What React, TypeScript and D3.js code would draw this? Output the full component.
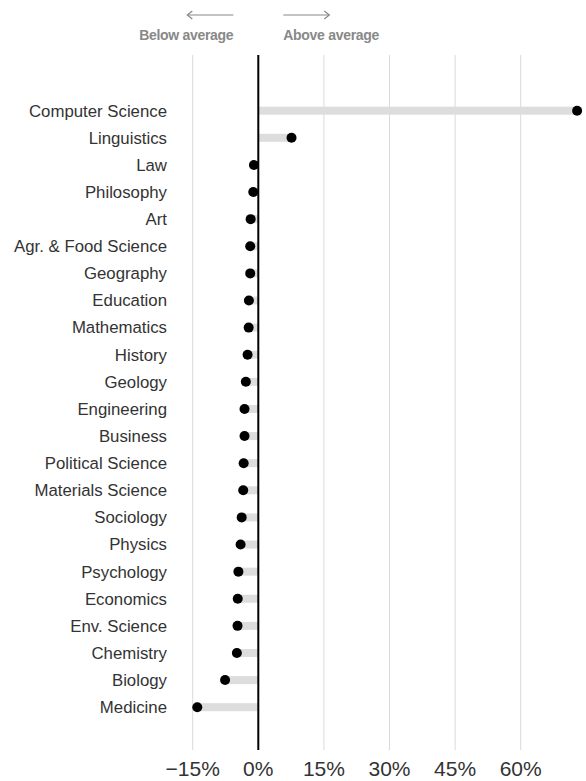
import React, { useEffect, useRef } from 'react';
import * as d3 from 'd3';

const categories = [
  'Computer Science', 'Linguistics', 'Law', 'Philosophy', 'Art', 'Agr. & Food Science',
  'Geography', 'Education', 'Mathematics', 'History', 'Geology', 'Engineering',
  'Business', 'Political Science', 'Materials Science', 'Sociology', 'Physics',
  'Psychology', 'Economics', 'Env. Science', 'Chemistry', 'Biology', 'Medicine',
];

const values = [
  72.9, 7.6, -1.0, -1.15, -1.75, -1.85,
  -1.85, -2.15, -2.2, -2.45, -2.85, -3.15,
  -3.15, -3.35, -3.45, -3.8, -4.05,
  -4.55, -4.7, -4.75, -4.9, -7.6, -13.95,
];

const ticks = [-15, 0, 15, 30, 45, 60];

const App: React.FC = () => {
  const width = 586;
  const height = 781;
  const svgRef = useRef<SVGSVGElement>(null);

  useEffect(() => {
    if (!svgRef.current) return;
    const svg = d3.select(svgRef.current);
    svg.selectAll('*').remove();

    const x = d3.scaleLinear().domain([-15, 60]).range([192.7, 520.7]);
    const y = d3.scalePoint<string>().domain(categories).range([110.7, 707.2]);

    const gridTop = 55;
    const gridBottom = 750;

    // grid
    svg.append('g')
      .selectAll('line')
      .data(ticks.filter(t => t !== 0))
      .join('line')
      .attr('x1', d => x(d))
      .attr('x2', d => x(d))
      .attr('y1', gridTop)
      .attr('y2', gridBottom)
      .attr('stroke', '#d9d9d9')
      .attr('stroke-width', 1);

    // tick labels
    svg.append('g')
      .selectAll('text')
      .data(ticks)
      .join('text')
      .attr('x', d => x(d))
      .attr('y', 776)
      .attr('text-anchor', 'middle')
      .attr('font-family', 'Liberation Sans, Arial, sans-serif')
      .attr('font-size', 21)
      .attr('fill', '#333')
      .text(d => (d < 0 ? '\u2212' + Math.abs(d) : d) + '%');

    // bars
    svg.append('g')
      .selectAll('rect')
      .data(values)
      .join('rect')
      .attr('x', d => Math.min(x(0), x(d)))
      .attr('width', d => Math.abs(x(d) - x(0)))
      .attr('y', (d, i) => y(categories[i])! - 4)
      .attr('height', 8)
      .attr('fill', '#dddddd');

    // zero line
    svg.append('line')
      .attr('x1', x(0))
      .attr('x2', x(0))
      .attr('y1', gridTop)
      .attr('y2', gridBottom)
      .attr('stroke', '#000')
      .attr('stroke-width', 2);

    // dots
    svg.append('g')
      .selectAll('circle')
      .data(values)
      .join('circle')
      .attr('cx', d => x(d))
      .attr('cy', (d, i) => y(categories[i])!)
      .attr('r', 5)
      .attr('fill', '#000');

    // category labels
    svg.append('g')
      .selectAll('text')
      .data(categories)
      .join('text')
      .attr('x', 167)
      .attr('y', d => y(d)!)
      .attr('dy', '0.35em')
      .attr('text-anchor', 'end')
      .attr('font-family', 'Liberation Sans, Arial, sans-serif')
      .attr('font-size', 16.8)
      .attr('fill', '#333')
      .text(d => d);

    // header arrows
    const hdr = svg.append('g').attr('fill', 'none').attr('stroke', '#888').attr('stroke-width', 1.2);
    const z = x(0);
    hdr.append('line').attr('x1', z - 71).attr('x2', z - 25).attr('y1', 15).attr('y2', 15);
    hdr.append('path').attr('d', `M${z - 66},11 L${z - 71},15 L${z - 66},19`);
    hdr.append('line').attr('x1', z + 25).attr('x2', z + 71).attr('y1', 15).attr('y2', 15);
    hdr.append('path').attr('d', `M${z + 66},11 L${z + 71},15 L${z + 66},19`);

    svg.append('text')
      .attr('x', z - 25)
      .attr('y', 40)
      .attr('text-anchor', 'end')
      .attr('font-family', 'Liberation Sans, Arial, sans-serif')
      .attr('font-size', 14)
      .attr('font-weight', 'bold')
      .attr('letter-spacing', -0.3)
      .attr('fill', '#888')
      .text('Below average');

    svg.append('text')
      .attr('x', z + 25)
      .attr('y', 40)
      .attr('text-anchor', 'start')
      .attr('font-family', 'Liberation Sans, Arial, sans-serif')
      .attr('font-size', 14)
      .attr('font-weight', 'bold')
      .attr('letter-spacing', -0.3)
      .attr('fill', '#888')
      .text('Above average');
  }, []);

  return (
    <svg
      ref={svgRef}
      width={width}
      height={height}
      style={{ position: 'absolute', left: 0, top: 0, display: 'block' }}
    />
  );
};

export default App;
